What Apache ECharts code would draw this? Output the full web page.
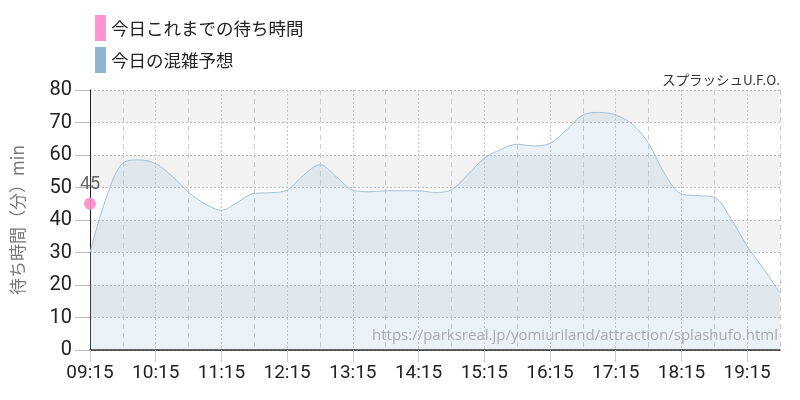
<!DOCTYPE html>
<html><head><meta charset="utf-8">
<script src="https://cdn.jsdelivr.net/npm/echarts@6/dist/echarts.min.js"></script>
<style>html,body{margin:0;padding:0;background:#fff}#c{width:800px;height:400px}</style>
</head><body><div id="c"></div>
<script>
const times = ["09:15","09:30","09:45","10:00","10:15","10:30","10:45","11:00","11:15","11:30","11:45","12:00","12:15","12:30","12:45","13:00","13:15","13:30","13:45","14:00","14:15","14:30","14:45","15:00","15:15","15:30","15:45","16:00","16:15","16:30","16:45","17:00","17:15","17:30","17:45","18:00","18:15","18:30","18:45","19:00","19:15","19:30","19:45"];
const forecast = [30,47,57.5,58.5,57.3,53.5,48.5,45,43,45.5,48.2,48.4,49.2,53.8,57,53.3,49.2,48.7,49,49,49,48.5,49.3,54,59,61.7,63.3,62.8,63.6,67.7,72.3,73.1,72.3,69.5,63.6,54,48,47.5,47,40.5,32,25,17.5];
const actual = [45];
const yTicks = [0,10,20,30,40,50,60,70,80];
const legendNames = ["今日これまでの待ち時間","今日の混雑予想"];
const titleText = "スプラッシュU.F.O.";
const sourceUrl = "https://parksreal.jp/yomiuriland/attraction/splashufo.html";
const yName = "待ち時間（分）min";

const cond = "'Roboto',sans-serif";
const jp = "'Noto Sans CJK JP','Noto Sans',sans-serif";
const chart = echarts.init(document.getElementById('c'));
chart.setOption({
  animation:false,
  title:{text:titleText,right:15,top:68,textStyle:{fontSize:13.5,fontWeight:'normal',color:'#333',fontFamily:jp}},
  legend:{orient:'vertical',left:90,top:10,itemWidth:11,itemHeight:26,itemGap:6,icon:'rect',
    textStyle:{fontSize:17.5,color:'#222',fontFamily:jp},
    data:[{name:legendNames[0],itemStyle:{color:'#ff8acb'}},{name:legendNames[1],itemStyle:{color:'#8fb3d3'}}]},
  grid:{left:90,right:20,top:90,bottom:50},
  xAxis:[{type:'category',data:times,boundaryGap:false,
    axisLine:{lineStyle:{color:'#222',width:1.5}},
    axisTick:{interval:3,length:12,lineStyle:{color:'#ccc'}},
    axisLabel:{interval:3,margin:14,fontSize:19,color:'#222',fontFamily:cond},
    splitLine:{show:true,interval:function(i){return i%4===0;},lineStyle:{color:'#c8c8c8',type:[2,2]}}},
   {type:'category',data:times,boundaryGap:false,position:'bottom',
    axisLine:{show:false},axisTick:{show:false},axisLabel:{show:false},
    splitLine:{show:true,interval:function(i){return i%4===2;},lineStyle:{color:'#cccccc',type:[5,4]}}}],
  yAxis:{type:'value',min:yTicks[0],max:yTicks[yTicks.length-1],interval:10,
    name:yName,nameLocation:'middle',nameGap:64,nameRotate:90,
    nameTextStyle:{fontSize:17,color:'#777',fontFamily:jp},
    axisLine:{show:true,lineStyle:{color:'#222'}},
    axisTick:{show:true,length:15,lineStyle:{color:'#bbb'}},
    axisLabel:{margin:18,fontSize:20,color:'#222',fontFamily:cond},
    splitLine:{lineStyle:{color:'#bbb',type:[2,2]}},
    splitArea:{show:true,areaStyle:{color:['#ffffff','#f2f2f2']}}},
  graphic:[{type:'text',right:22,top:328,z:100,style:{text:sourceUrl,fontSize:15,fill:'#aaa',fontFamily:"Open Sans, sans-serif"}}],
  series:[
    {name:legendNames[1],type:'line',data:forecast,smooth:0.35,showSymbol:false,
      lineStyle:{color:'#a5c0da',width:1},itemStyle:{color:'#8fb3d3'},
      areaStyle:{color:'rgba(143,179,211,0.27)'},z:2},
    {name:legendNames[0],type:'scatter',data:actual.map((v,i)=>[i,v]),symbolSize:12,
      itemStyle:{color:'#ff8acb',opacity:0.9},
      label:{show:true,position:'top',distance:4,fontSize:18,color:'#555',fontFamily:cond},z:5}
  ]
});
</script></body></html>
